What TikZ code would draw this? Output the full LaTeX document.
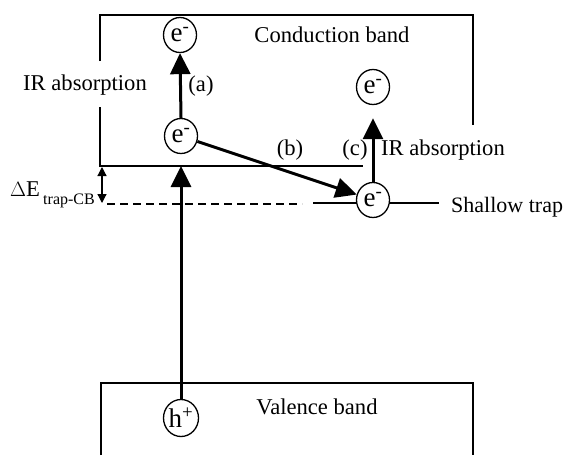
\documentclass[tikz,border=0pt]{standalone}
\usepackage{fontspec}
\setmainfont{Liberation Serif}
\usetikzlibrary{arrows.meta,shapes.geometric}
\begin{document}
\begin{tikzpicture}[x=1pt,y=-1pt,
  band/.style={line width=1.3pt},
  carrier/.style={draw, ellipse, line width=1.3pt, minimum width=33pt,
    minimum height=35pt, inner sep=0pt, font=\fontsize{27}{30}\selectfont},
  txt/.style={inner sep=0pt},
  transition/.style={line width=3pt, -{Triangle[width=20pt,length=21pt]}},
  gap/.style={line width=1.2pt,
    {Triangle[width=9pt,length=9pt]}-{Triangle[width=9pt,length=9pt]}},
  font=\fontsize{22.6}{27}\selectfont]
\useasboundingbox (0,0) rectangle (567,455);

% conduction band outline, with a break for the side label
\draw[band] (100,61) -- (100,15) -- (473,15) -- (473,125);
\draw[band] (100,107) -- (100,166) -- (363,166);
\node[txt] (cb) at (332,35) {Conduction band};

% valence band outline
\draw[band] (101,455) -- (101,383) -- (473,383) -- (473,455);
\node[txt] (vb) at (317,407) {Valence band};

% carriers
\node[carrier] (eTop)   at (180,35)  {e\textsuperscript{-}};
\node[carrier] (eMid)   at (181,136) {e\textsuperscript{-}};
\node[carrier] (eHigh)  at (373,87)  {e\textsuperscript{-}};
\node[carrier] (eTrap)  at (373,200) {e\textsuperscript{-}};
\node[carrier, minimum width=35pt, minimum height=37pt] (hole) at (181,418) {h\textsuperscript{+}};

% shallow trap level
\coordinate (trapL) at (313,203);
\coordinate (trapR) at (439,203);
\draw[band] (trapL) -- (trapL -| eTrap.west);
\draw[band] (eTrap.east |- trapR) -- (trapR);
\node[txt, anchor=west, font=\fontsize{22}{26}\selectfont] (trapLbl) at (451,207) {Shallow trap};

% dashed reference level
\coordinate (dashL) at (107,204);
\coordinate (dashR) at (302,204);
\draw[band, dash pattern=on 8pt off 5pt] (dashL) -- (dashR);

% trap depth below the conduction band edge
\coordinate (gapTop) at (102,167);
\coordinate (gapBot) at (102,203);
\draw[gap] (gapTop) -- (gapBot);
\node[txt] (dE) at (25,189) {$\Delta$E};
\node[txt, font=\fontsize{16}{19}\selectfont] (dEsub) at (69,201) {trap-CB};

% excitation from the valence band
\coordinate (cbEdge) at (181,166);
\draw[transition] (hole.north) -- (cbEdge);

% transitions
\draw[transition] (eMid.north) -- (eTop.south);
\node[txt] (la) at (201,86) {(a)};
\node[txt] (irL) at (85,85) {IR absorption};

\draw[transition] (eMid) -- (eTrap);
\node[txt] (lb) at (290,150) {(b)};

\draw[transition, shorten >=13pt] (eTrap.north) -- (eHigh.south);
\node[txt] (lc) at (355,150) {(c)};
\node[txt] (irR) at (443,150) {IR absorption};
\end{tikzpicture}
\end{document}
